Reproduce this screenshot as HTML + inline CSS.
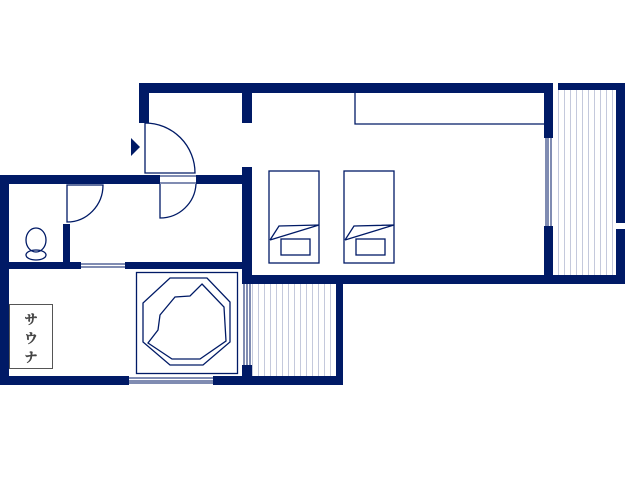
<!DOCTYPE html>
<html><head><meta charset="utf-8"><style>html,body{margin:0;padding:0;background:#fff;}svg{display:block}</style></head>
<body>
<svg width="626" height="477" viewBox="0 0 626 477" xmlns="http://www.w3.org/2000/svg">
<defs>
<pattern id="st" width="6" height="10" patternUnits="userSpaceOnUse"><rect width="6" height="10" fill="#fff"/><rect x="0" width="1" height="10" fill="#c4c9dc"/></pattern>
</defs>
<g fill="#001a66">
<rect x="553" y="90" width="63" height="185" fill="url(#st)"/>
<rect x="252" y="284" width="84" height="94" fill="url(#st)"/>
<rect x="139" y="83" width="414" height="10"/>
<rect x="139" y="83" width="10" height="40"/>
<rect x="242" y="83" width="10" height="40"/>
<rect x="242" y="167" width="10" height="117"/>
<rect x="544" y="83" width="9" height="55"/>
<rect x="544" y="226" width="9" height="58"/>
<rect x="558" y="83" width="67" height="7"/>
<rect x="616" y="83" width="9" height="140"/>
<rect x="616" y="229" width="9" height="55"/>
<rect x="242" y="275" width="383" height="9"/>
<rect x="0" y="175" width="160" height="9"/>
<rect x="196" y="175" width="56" height="9"/>
<rect x="0" y="175" width="9" height="210"/>
<rect x="63" y="224" width="7" height="45"/>
<rect x="0" y="262" width="81" height="7"/>
<rect x="125" y="262" width="127" height="7"/>
<rect x="0" y="376" width="129" height="9"/>
<rect x="213" y="376" width="130" height="9"/>
<rect x="242" y="365" width="10" height="20"/>
<rect x="336" y="284" width="7" height="101"/>
<polygon points="131,138 140,147 131,156"/>
</g>
<g fill="none" stroke="#001a66" stroke-width="1.3">
<path d="M145,123 V173 H195 A50,50 0 0 0 145,123"/>
<path d="M160,184 V218 A36,36 0 0 0 196,184"/>
<line x1="160" y1="176" x2="196" y2="176" stroke-width="1"/>
<line x1="160" y1="183" x2="196" y2="183" stroke-width="1"/>
<path d="M67,185 V222 A36,37 0 0 0 103,185 Z"/>
<ellipse cx="36" cy="240" rx="10" ry="12"/>
<ellipse cx="36" cy="255" rx="10" ry="5"/>
<g stroke-width="1">
<line x1="81" y1="264" x2="125" y2="264"/><line x1="81" y1="267" x2="125" y2="267"/>
<line x1="129" y1="378" x2="213" y2="378"/><line x1="129" y1="381" x2="213" y2="381"/><line x1="129" y1="383" x2="213" y2="383"/>
<line x1="546" y1="138" x2="546" y2="226"/><line x1="548" y1="138" x2="548" y2="226"/><line x1="551" y1="138" x2="551" y2="226"/>
<line x1="244" y1="284" x2="244" y2="365"/><line x1="247" y1="284" x2="247" y2="365"/><line x1="250" y1="284" x2="250" y2="365"/>
</g>
<rect x="136.5" y="272.5" width="101" height="101"/>
<polygon points="170,278 207,278 230,302 230,342 203,365 170,365 143,342 143,303"/>
<polygon points="202,284 224,307 226,341 200,359 172,359 148,343 158,330 160,315 175,297 190,296"/>
<rect x="9.5" y="304.5" width="43" height="64" stroke="#555" stroke-width="1"/>
<polyline points="355,93 355,124 544,124"/>
<rect x="269" y="171" width="50" height="92"/>
<polyline points="270,240 279,226 319,225 270,240"/>
<rect x="281" y="239" width="29" height="16"/>
<rect x="344" y="171" width="50" height="92"/>
<polyline points="345,240 354,226 394,225 345,240"/>
<rect x="356" y="239" width="29" height="16"/>
</g>
<text font-family="'Noto Serif CJK SC','Liberation Serif',serif" font-size="13" fill="#444" stroke="#444" stroke-width="0.4" text-anchor="middle" font-weight="bold">
<tspan x="31" y="324">サ</tspan><tspan x="31" y="343">ウ</tspan><tspan x="31" y="362">ナ</tspan></text>
</svg>
</body></html>
